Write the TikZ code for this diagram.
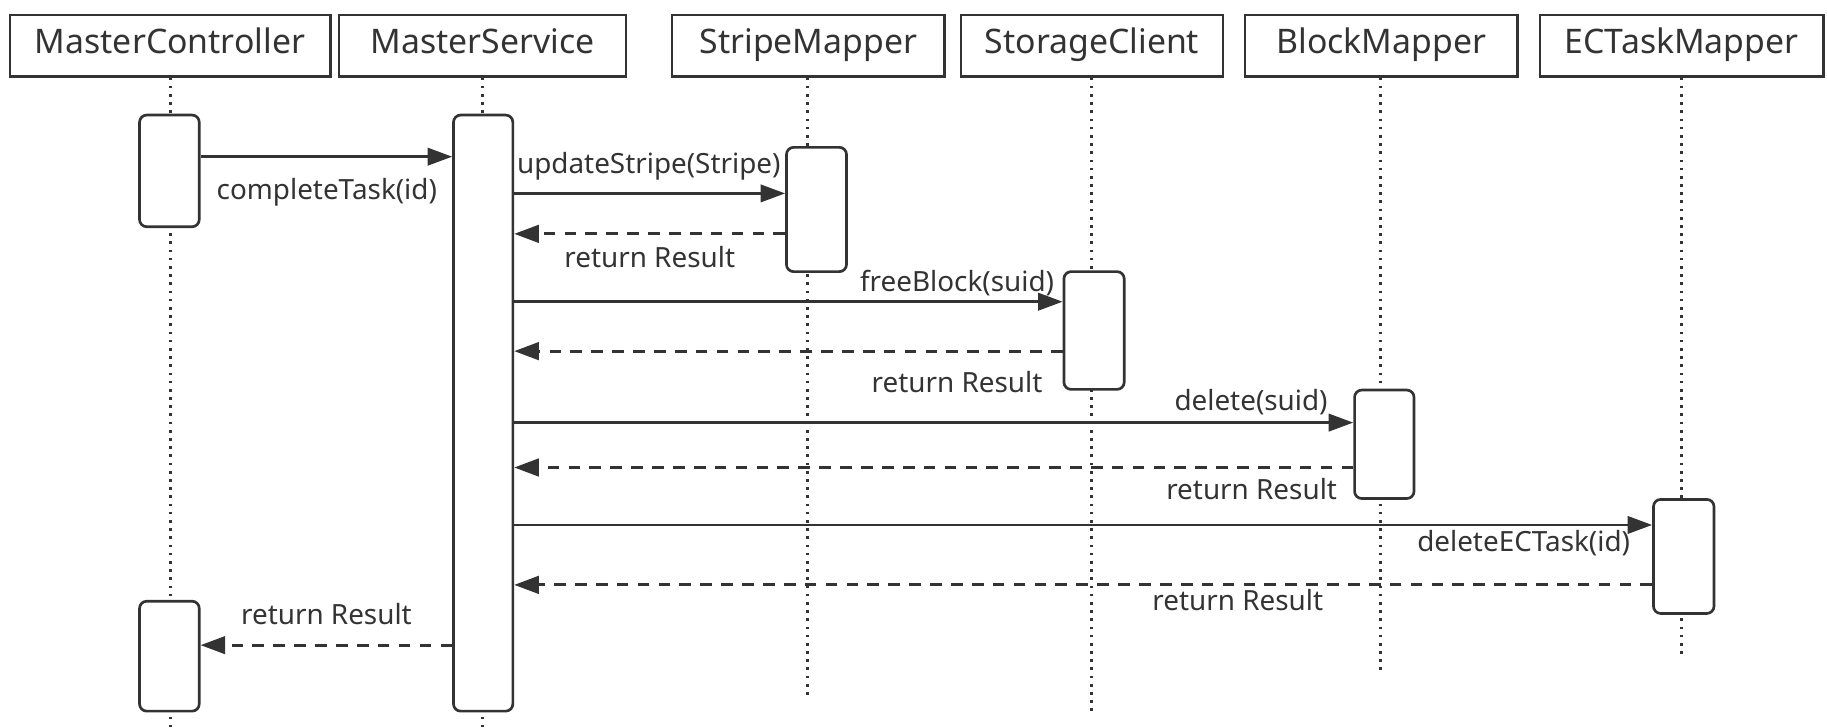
\documentclass[tikz,border=0pt]{standalone}
\usepackage{fontspec}
\setmainfont{Noto Sans}
\usepackage{tikz}
\usetikzlibrary{arrows.meta,fit}
\definecolor{ink}{HTML}{333333}

\begin{document}
\begin{tikzpicture}[x=0.02cm,y=-0.02cm,
  head/.style={draw=ink,line width=1.2pt,inner sep=0pt,text=ink,minimum height=1.05cm,
    text height=0.714em,text depth=0pt,font=\fontsize{16.5}{20}\selectfont},
  act/.style={draw=ink,fill=white,line width=1.3pt,rounded corners=3.5pt,inner sep=0pt},
  life/.style={draw=ink,line width=1.5pt,dash pattern=on 1.3pt off 2.7pt},
  call/.style={draw=ink,line width=1.3pt,-{Triangle[length=12pt,width=8.5pt]}},
  reply/.style={call,line width=1.5pt,dash pattern=on 5.7pt off 4.5pt},
  lbl/.style={text=ink,inner sep=0pt,font=\fontsize{13.6}{16}\selectfont}]

\useasboundingbox (0,0) rectangle (1568,624);

%% participants
\node[head, minimum width=5.5cm]   (mcH) at (145.85,39.25)  {MasterController};
\node[head, minimum width=4.93cm]  (msH) at (413.8,39.25)   {MasterService};
\node[head, minimum width=4.68cm]  (smH) at (693.35,39.25)  {StripeMapper};
\node[head, minimum width=4.49cm]  (scH) at (936.7,39.25)   {StorageClient};
\node[head, minimum width=4.68cm]  (bmH) at (1184.75,39.25) {BlockMapper};
\node[head, minimum width=4.87cm]  (etH) at (1442.45,39.25) {ECTaskMapper};

%% lifelines
\coordinate (mcE) at (146,624);
\coordinate (msE) at (414,624);
\coordinate (smE) at (693,599);
\coordinate (scE) at (936.5,613.5);
\coordinate (bmE) at (1184.5,579);
\coordinate (etE) at (1442.5,565);
\draw[life] (mcH.south -| mcE) -- (mcE);
\draw[life] (msH.south -| msE) -- (msE);
\draw[life] (smH.south -| smE) -- (smE);
\draw[life] (scH.south -| scE) -- (scE);
\draw[life] (bmH.south -| bmE) -- (bmE);
\draw[life] (etH.south -| etE) -- (etE);

%% activations
\node[act, fit={(119.7,98.7) (170.9,194.5)}]    (mcA) {};
\node[act, fit={(389,98.7) (439.9,610)}]        (msA) {};
\node[act, fit={(674.6,126.4) (726.1,233)}]     (smA) {};
\node[act, fit={(912.6,233) (964.3,334)}]       (scA) {};
\node[act, fit={(1161.9,334.6) (1212.9,427.6)}] (bmA) {};
\node[act, fit={(1418.3,428.4) (1470.2,526.2)}] (etA) {};
\node[act, fit={(119.7,515.7) (170.9,610)}]     (mcB) {};

%% messages
\draw[call]  (mcA.east |- 0,134.4) -- (msA.west |- 0,134.4);   %% completeTask
\draw[call]  (msA.east |- 0,165.9) -- (smA.west |- 0,165.9);   %% updateStripe
\draw[reply] (smA.west |- 0,200.6) -- (msA.east |- 0,200.6);
\draw[call]  (msA.east |- 0,258.8) -- (scA.west |- 0,258.8);   %% freeBlock
\draw[reply] (scA.west |- 0,301.2) -- (msA.east |- 0,301.2);
\draw[call]  (msA.east |- 0,362.5) -- (bmA.west |- 0,362.5);   %% delete
\draw[reply] (bmA.west |- 0,401) -- (msA.east |- 0,401);
\draw[call]  (msA.east |- 0,450.3) -- (etA.west |- 0,450.3);   %% deleteECTask
\draw[reply] (etA.west |- 0,501.7) -- (msA.east |- 0,501.7);
\draw[reply] (msA.west |- 0,553.4) -- (mcB.east |- 0,553.4);

%% message labels
\node[lbl] (l1)  at (280.3,164.5)  {completeTask(id)};
\node[lbl] (l2)  at (556.5,143)    {updateStripe(Stripe)};
\node[lbl] (l3)  at (557.3,220.2)  {return Result};
\node[lbl] (l4)  at (820.9,243)    {freeBlock(suid)};
\node[lbl] (l5)  at (820.9,327.5)  {return Result};
\node[lbl] (l6)  at (1073.1,344.7) {delete(suid)};
\node[lbl] (l7)  at (1073.6,419.8) {return Result};
\node[lbl] (l8)  at (1306.9,466.2) {deleteECTask(id)};
\node[lbl] (l9)  at (1061.7,514.8) {return Result};
\node[lbl] (l10) at (280,527)      {return Result};
\end{tikzpicture}
\end{document}
